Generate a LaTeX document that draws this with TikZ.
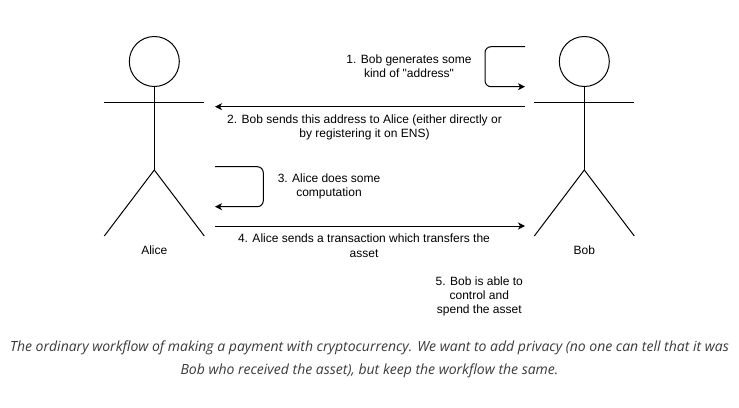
\documentclass[tikz,border=0pt]{standalone}
\usepackage{fontspec}
\setmainfont{Liberation Sans}
\newfontfamily\capfont{Open Sans}
\usetikzlibrary{arrows.meta,positioning}

\definecolor{capgray}{HTML}{3A3A3A}

\begin{document}
\begin{tikzpicture}[x=1pt,y=-1pt,line width=1pt,
  msg/.style={-{Stealth[length=7pt,width=7pt,inset=2pt]}},
  loop/.style={msg,rounded corners=6pt},
  note/.style={align=center,inner sep=0pt,font=\fontsize{12}{14.4}\selectfont}]

  \useasboundingbox (0,0) rectangle (739,407);

  % actors
  \foreach \x/\who in {154.3/Alice, 584.3/Bob} {
    \draw (\x,61.5) circle[radius=25pt];
    \draw (\x,86.5) -- (\x,170);
    \draw (\x-50,102.7) -- (\x+50,102.7);
    \draw (\x-50,236) -- (\x,170) -- (\x+50,236);
    \node[note] (\who) at (\x,250) {\who};
  }

  % message ends
  \coordinate (b1) at (525,46.7);
  \coordinate (b2) at (525,86.7);
  \coordinate (b3) at (525,106.7);
  \coordinate (a1) at (215,106.7);
  \coordinate (a2) at (215,166.7);
  \coordinate (a3) at (215,206.7);
  \coordinate (a4) at (215,226);
  \coordinate (b4) at (525,226);

  % messages
  \draw[loop] (b1) -- (485,46.7) |- (b2);
  \draw[msg] (b3) -- (a1);
  \draw[loop] (a2) -- (263.3,166.7) |- (a3);
  \draw[msg] (a4) -- (b4);

  \node[note] (t1) at (409,66.3) {1. Bob generates some\\kind of \textquotedbl address\textquotedbl};
  \node[note] (t2) at (364.5,127.2) {2. Bob sends this address to Alice (either directly or\\by registering it on ENS)};
  \node[note] (t3) at (329,186.3) {3. Alice does some\\computation};
  \node[note] (t4) at (364,245.8) {4. Alice sends a transaction which transfers the\\asset};
  \node[note] (t5) at (479.3,296.3) {5. Bob is able to\\control and\\spend the asset};

  % caption
  \node[align=center,inner sep=0pt,text=capgray,font=\capfont\itshape\fontsize{14}{23}\selectfont] (cap) at (369.5,359.5)
    {The ordinary workflow of making a payment with cryptocurrency. We want to add privacy (no one can tell that it was\\Bob who received the asset), but keep the workflow the same.};
\end{tikzpicture}
\end{document}
